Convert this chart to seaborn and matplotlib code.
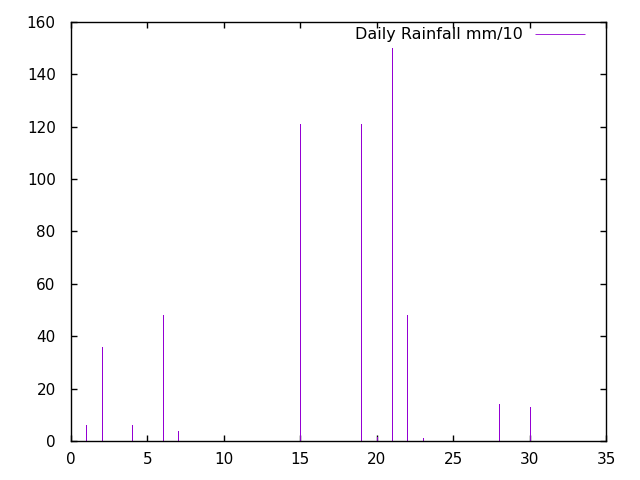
import numpy as np
import pandas as pd
import matplotlib
matplotlib.use("Agg")
import matplotlib.pyplot as plt
import seaborn as sns

# daily rainfall (mm/10) by day of month
days = [1, 2, 4, 6, 7, 15, 19, 20, 21, 22, 23, 28, 30]
rain = [6, 36, 6, 48, 4, 121, 121, 1.5, 150, 48, 1, 14, 13]
label = "Daily Rainfall mm/10"

df = pd.DataFrame({"day": days, "rain": rain})

sns.set_style("ticks")
plt.rcParams['font.family'] = ['DejaVu Sans']
plt.rcParams['text.color'] = 'black'

fig = plt.figure(figsize=(6.4, 4.8), dpi=100)
ax = fig.add_axes([71 / 640, 39 / 480, 535 / 640, 419 / 480])

ax.vlines(df["day"], 0, df["rain"], color="#9400d3", lw=0.6,
          antialiased=False, label=label)

ax.set_xlim(0, 35)
ax.set_ylim(0, 160)
ax.set_xticks(np.arange(0, 36, 5))
ax.set_yticks(np.arange(0, 161, 20))

for s in ax.spines.values():
    s.set_visible(True)
    s.set_color("black")
    s.set_linewidth(1)

ax.tick_params(axis="both", direction="in", length=4, width=1, color="black",
               top=True, right=True, labelsize=11, labelcolor="black")
ax.tick_params(axis="x", pad=8)
ax.tick_params(axis="y", pad=11)

ax.legend(loc="center right", markerfirst=False, frameon=False, fontsize=11.5,
          handlelength=3.1, handletextpad=0.8, borderpad=0, borderaxespad=0,
          bbox_to_anchor=(585 / 640, 1 - 35 / 480), bbox_transform=fig.transFigure)

fig.savefig("out.png", dpi=100)
